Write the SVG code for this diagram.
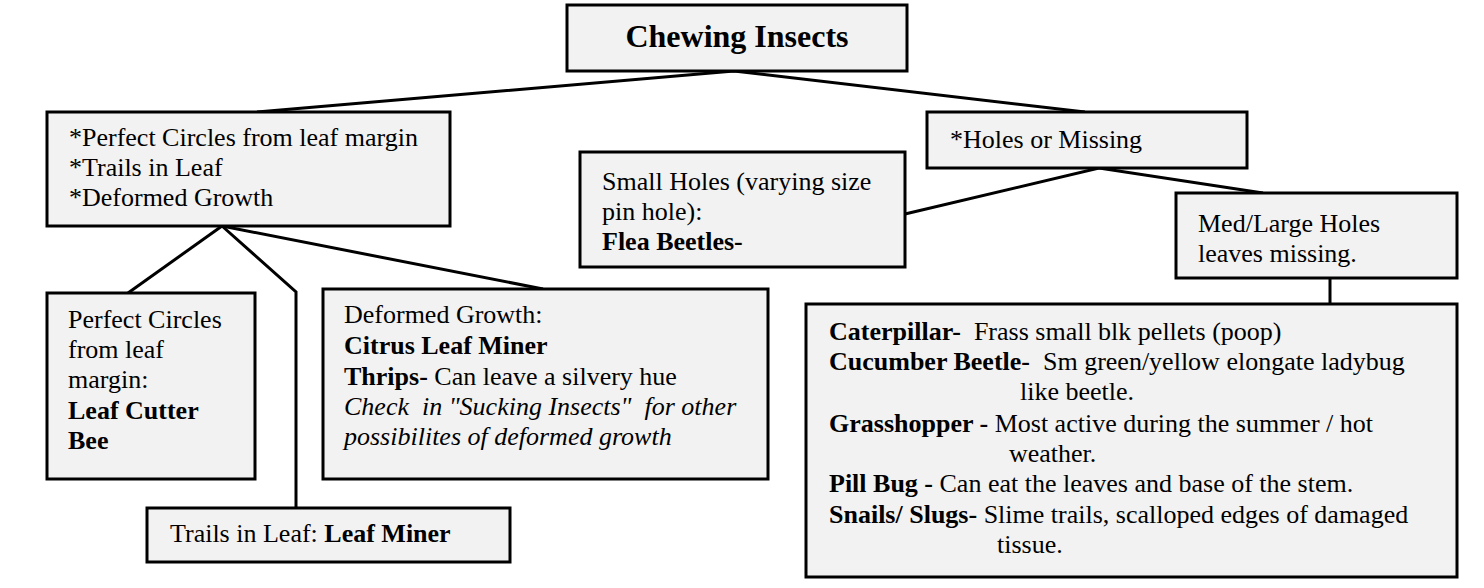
<svg xmlns="http://www.w3.org/2000/svg" width="1484" height="588" viewBox="0 0 1484 588" font-family="'Liberation Serif', 'Times New Roman', Times, 'DejaVu Serif', serif">
<style>
.box{fill:#f2f2f2;stroke:#000;stroke-width:3}
.ln{fill:none;stroke:#000;stroke-width:3}
.tx{font-family:'Liberation Serif','Times New Roman',Times,'DejaVu Serif',serif;font-size:26px;fill:#000}
.b{font-weight:bold}
.i{font-style:italic}
.t{font-size:32px;font-weight:bold}
</style>
<rect width="1484" height="588" fill="#fff"/>
<g id="connectors">
<polyline class="ln" points="257,112 734,71 1085,112"/>
<line class="ln" x1="222" y1="226" x2="128" y2="293"/>
<polyline class="ln" points="222,226 296,292 296,508"/>
<line class="ln" x1="222" y1="226" x2="543" y2="289"/>
<polyline class="ln" points="905,214 1099,168 1263,193"/>
<line class="ln" x1="1330" y1="278" x2="1330" y2="304"/>
</g>
<g class="tx">
<g id="root">
<rect class="box" x="567" y="5" width="340" height="66"/>
<text class="t" x="737" y="47" text-anchor="middle">Chewing Insects</text>
</g>
<g id="symptoms">
<rect class="box" x="47" y="112" width="403" height="114"/>
<text x="69" y="146">*Perfect Circles from leaf margin</text>
<text x="69" y="176">*Trails in Leaf</text>
<text x="69" y="206">*Deformed Growth</text>
</g>
<g id="holes">
<rect class="box" x="927" y="112" width="320" height="56"/>
<text x="950" y="148">*Holes or Missing</text>
</g>
<g id="small-holes">
<rect class="box" x="580" y="152" width="325" height="115"/>
<text x="602" y="190">Small Holes (varying size</text>
<text x="602" y="220">pin hole):</text>
<text class="b" x="602" y="250">Flea Beetles-</text>
</g>
<g id="med-large">
<rect class="box" x="1176" y="193" width="281" height="85"/>
<text x="1198" y="232">Med/Large Holes</text>
<text x="1198" y="262">leaves missing.</text>
</g>
<g id="perfect-circles">
<rect class="box" x="47" y="293" width="208" height="186"/>
<text x="68" y="328">Perfect Circles</text>
<text x="68" y="358">from leaf</text>
<text x="68" y="388">margin:</text>
<text class="b" x="68" y="419">Leaf Cutter</text>
<text class="b" x="68" y="449">Bee</text>
</g>
<g id="deformed">
<rect class="box" x="323" y="289" width="445" height="190"/>
<text x="344" y="323">Deformed Growth:</text>
<text class="b" x="344" y="354">Citrus Leaf Miner</text>
<text x="344" y="385"><tspan class="b">Thrips-</tspan> Can leave a silvery hue</text>
<text class="i" x="344" y="415" xml:space="preserve">Check  in "Sucking Insects"  for other</text>
<text class="i" x="344" y="445">possibilites of deformed growth</text>
</g>
<g id="trails">
<rect class="box" x="147" y="508" width="363" height="54"/>
<text x="170" y="542">Trails in Leaf: <tspan class="b">Leaf Miner</tspan></text>
</g>
<g id="chewers">
<rect class="box" x="806" y="304" width="651" height="273"/>
<text x="829" y="340" xml:space="preserve"><tspan class="b">Caterpillar-</tspan>  Frass small blk pellets (poop)</text>
<text x="829" y="370" xml:space="preserve"><tspan class="b">Cucumber Beetle-</tspan>  Sm green/yellow elongate ladybug</text>
<text x="1020" y="400">like beetle.</text>
<text x="829" y="432"><tspan class="b">Grasshopper -</tspan> Most active during the summer / hot</text>
<text x="1009" y="462">weather.</text>
<text x="829" y="492"><tspan class="b">Pill Bug -</tspan> Can eat the leaves and base of the stem.</text>
<text x="829" y="523"><tspan class="b">Snails/ Slugs-</tspan> Slime trails, scalloped edges of damaged</text>
<text x="997" y="553">tissue.</text>
</g>
</g>
</svg>
